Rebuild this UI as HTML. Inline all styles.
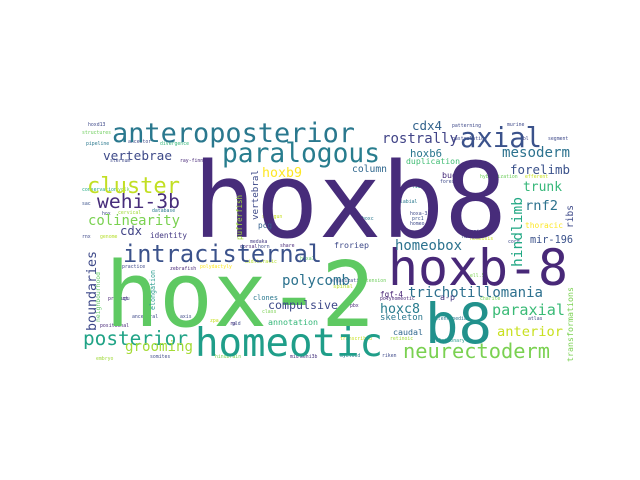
<!DOCTYPE html>
<html><head><meta charset="utf-8"><style>
html,body{margin:0;padding:0;background:#fff;width:640px;height:480px;overflow:hidden}
svg text{font-family:"DejaVu Sans Mono","Liberation Mono",monospace}
</style></head><body>
<svg id="wc" width="640" height="480" viewBox="0 0 640 480" xmlns="http://www.w3.org/2000/svg">
<rect x="0" y="0" width="640" height="480" fill="#ffffff"/>
</svg>
<script>
// words, anchor x, baseline y, text length, color, rotation
const words = ["hoxb8","hox-2","hoxb-8","b8","homeotic","anteroposterior","paralogous","axial","intracisternal","cluster","wehi-3b","vertebrae","colinearity","cdx","identity","posterior","grooming","neurectoderm","polycomb","compulsive","annotation","trichotillomania","paraxial","anterior","hoxc8","fgf-4","skeleton","caudal","mesoderm","cdx4","rostrally","hoxb6","duplication","column","forelimb","bud","trunk","rnf2","thoracic","mir-196","homeobox","froriep","hoxb9","pcg","a-p","spinal","clones","boundaries","vertebral","hindlimb","ribs","transformations","pufferfish","elongation","neighbourhood"];
const xs = [193,105,388,425,195,112,222,460,123,87,97,103,88,120,150,83,125,403,282,268,268,408,492,497,380,380,380,393,502,412,382,410,406,352,510,442,523,525,525,530,395,334,262,258,440,333,253,96,258,522,573,573,242,155,100];
const ys = [237,326,285,343,356,142,162,147,262,193,208,160,225,235,238,345,351,358,285,309,325,297,315,336,313,297,320,335,157,130,143,157,164,172,174,178,191,210,228,243,250,248,177,228,300,288,300,331,220,267,228,362,240,310,322];
const lens = [314,270,180,67,188,243,158,82,199,93,83,69,92,22,37,105,68,147,68,70,50,135,73,66,40,23,43,30,68,30,76,32,54,35,60,15,39,33,38,43,67,35,40,14,15,20,25,80,50,70,23,75,45,40,50];
const cols = ["#472c7a","#5ec962","#482878","#21918c","#1f9e89","#2a788e","#287d8e","#3b528b","#3b528b","#c2df23","#472d7b","#3e4a89","#7ad151","#414487","#443983","#20a386","#a5db36","#7ad151","#2c728e","#3e4989","#35b779","#2d708e","#3aba76","#c8e020","#287c8e","#482475","#2a788e","#31688e","#2c728e","#33638d","#414487","#2a768e","#3fbc73","#31688e","#3b528b","#472c7a","#35b779","#2c728e","#fde725","#3b528b","#2c728e","#3e4a89","#fde725","#34608d","#46337e","#b5de2b","#2a788e","#3e4989","#3e4a89","#22a884","#3e4a89","#7ad151","#a0da39","#2a9d8f","#5ec962"];
const rots = [0,0,0,0,0,0,0,0,0,0,0,0,0,0,0,0,0,0,0,0,0,0,0,0,0,0,0,0,0,0,0,0,0,0,0,0,0,0,0,0,0,0,0,0,0,0,0,-90,-90,-90,-90,-90,-90,-90,-90];
// tiny background words
const tiny = ["hoxd13","structures","pipeline","ancestor","divergence","sternum","ray-finned","conservation","yolk","sac","hox","cervical","database","shotgun","rnx","genome","horn","medaka","dorsal","share","embryo","somites","hindbrain","wehi3b","mid","myeloid","riken","transcribed","retinoic","evolutionary","antennapedia","atlas","charite","polyhomeotic","ancestral","axis","ra","gld","zpa","fugu","project","positional","pbx","prc1","labial","hoxa-3","homeo","hoxc","fishes","forests","gastrulation","patterning","murine","segment","hybridization","efferent","tail","neural","cord","ell.5","homeosis","muramia","hoxa7","midthoracic","zebrafish","polydactyly","practice","organization","extension","class","dbl"];
const tx = [88,82,86,128,160,110,180,82,118,82,102,118,152,262,82,100,258,250,240,280,96,150,215,300,290,340,382,340,390,430,432,528,480,380,132,180,230,232,210,118,108,100,350,412,400,410,410,362,412,440,452,452,507,548,480,525,462,462,508,470,470,462,300,245,170,200,122,330,360,262,520];
const ty = [126,134,145,143,145,162,162,191,191,205,215,214,212,218,238,238,248,243,248,247,360,358,358,358,358,357,357,340,340,342,320,320,300,300,318,318,325,325,322,300,300,327,307,220,203,215,225,220,188,183,140,127,126,140,178,178,235,238,243,277,240,233,260,263,270,268,268,282,282,313,140];
const tcols = ["#3e4989","#6ccd5a","#2a788e","#3e4989","#35b779","#3e4989","#482878","#22a884","#7ad151","#3b528b","#3e4a89","#a0da39","#2a788e","#c8e020","#3e4a89","#b5de2b","#3e4a89","#443983","#482878","#482878","#a0da39","#3e4a89","#7ad151","#46337e","#482878","#2a788e","#3e4989","#c8e020","#a0da39","#2a9d8f","#2a788e","#3e4a89","#7ad151","#482475","#3e4989","#3e4989","#482878","#3e4a89","#c8e020","#3e4a89","#482475","#482878","#482878","#3b528b","#2a788e","#3e4989","#3e4a89","#2a788e","#2a9d8f","#3e4989","#3e4a89","#3e4989","#3e4989","#3e4989","#6ccd5a","#c8e020","#3e4989","#3e4989","#3e4989","#7ad151","#c8e020","#3e4989","#5ec962","#b5de2b","#482878","#fde725","#3e4989","#3e4989","#6ccd5a","#7ad151","#3e4989"];
const NS = "http://www.w3.org/2000/svg";
const svg = document.getElementById("wc");
function addWord(t, x, y, len, col, rot, fsz) {
  const el = document.createElementNS(NS, "text");
  const fs = fsz || len / (0.602 * t.length);
  el.setAttribute("x", x);
  el.setAttribute("y", y);
  el.setAttribute("font-size", fs.toFixed(2));
  el.setAttribute("fill", col);
  el.setAttribute("textLength", len);
  el.setAttribute("lengthAdjust", "spacingAndGlyphs");
  if (rot) el.setAttribute("transform", "rotate(" + rot + " " + x + " " + y + ")");
  el.textContent = t;
  
  
  svg.appendChild(el);
}
for (let i = 0; i < tiny.length; i++) {
  addWord(tiny[i], tx[i], ty[i], tiny[i].length * 2.9, tcols[i], 0, 4.8);
}
for (let i = 0; i < words.length; i++) {
  addWord(words[i], xs[i], ys[i], lens[i], cols[i], rots[i]);
}
</script>
</body></html>
